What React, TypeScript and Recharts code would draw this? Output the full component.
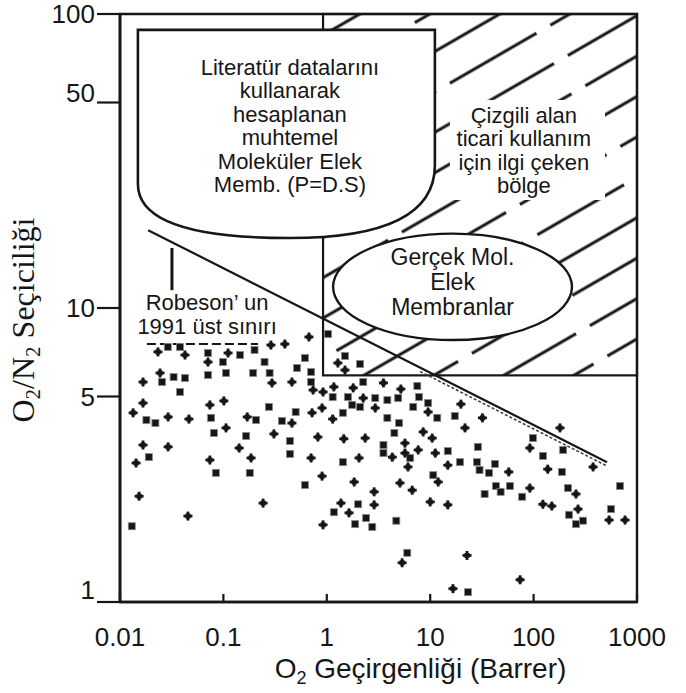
import React from "react";
import {
  ScatterChart,
  Scatter,
  XAxis,
  YAxis,
  ReferenceArea,
  ReferenceLine,
  Label,
} from "recharts";

const FONT = "'Liberation Sans', Arial, sans-serif";
const SERIF = "'Liberation Serif', 'Times New Roman', serif";
const INK = "#161616";

const xTicks = [0.01, 0.1, 1, 10, 100, 1000];
const yTicks = [1, 5, 10, 50, 100];

// [O2 permeability (Barrer), O2/N2 selectivity]
const squarePoints: [number, number][] = [
  [0.029, 7.37], [0.038, 7.37], [0.071, 7.03], [0.099, 6.55], [0.145, 6.92], [0.2, 7.2], [0.25, 6.55],
  [0.0255, 5.6], [0.033, 5.82], [0.0425, 5.78], [0.038, 5.18], [0.071, 5.92], [0.106, 6.01], [0.194, 6.01],
  [0.28, 6.01], [0.515, 6.25], [0.615, 6.76], [0.705, 6.06], [0.705, 5.6],
  [0.018, 4.16], [0.022, 4.06], [0.076, 4.23], [0.207, 4.16], [0.276, 4.61], [0.368, 4.13], [0.5, 4.43],
  [0.081, 3.76], [0.166, 3.67], [0.44, 3.53], [0.44, 3.19], [0.019, 3.11], [0.0845, 2.75], [0.18, 2.75],
  [0.615, 2.5], [0.013, 1.81],
  [1.14, 4.98], [1.6, 4.98], [2.94, 4.94], [2.25, 5.6], [1.76, 4.68], [2.1, 4.61], [3.85, 4.86], [4.9, 4.94],
  [7.5, 5.43], [7.8, 4.98], [6.85, 4.61], [9.55, 4.75], [11.7, 4.23], [17.3, 4.29],
  [1.43, 4.4], [3.85, 4.23], [5.0, 4.06], [4.5, 3.76], [3.53, 3.42], [3.53, 3.21], [6.4, 3.09], [14.8, 3.26],
  [19.4, 2.99], [1.43, 2.99],
  [28.9, 3.37], [98.5, 3.61], [123, 3.14], [193, 3.29], [28.3, 2.99], [42.3, 2.95], [30, 2.81], [37, 2.75],
  [188, 2.77], [43.2, 2.48], [59, 2.48], [48, 2.37], [33.6, 2.33], [77.5, 2.28], [215, 2.44], [685, 2.48],
  [220, 1.98], [300, 1.89], [257, 1.84], [561, 2.07],
  [23.2, 1.08], [2.01, 2.15], [1.17, 2.02], [1.88, 1.84], [2.4, 1.93], [2.75, 1.8], [4.7, 1.89], [10.7, 2.7],
  [6.0, 1.47], [1.03, 8.16], [1.5, 6.87], [2.1, 6.45],
];

const crossPoints: [number, number][] = [
  [0.0233, 7.09], [0.0425, 6.92], [0.071, 6.55], [0.111, 7.03], [0.288, 7.48], [0.393, 7.54], [0.672, 7.97],
  [0.0244, 6.01], [0.0167, 5.6], [0.295, 5.56], [0.46, 5.6], [0.737, 5.26],
  [0.0167, 4.75], [0.0134, 4.4], [0.0292, 4.26], [0.0464, 4.19], [0.074, 4.68], [0.101, 4.83], [0.17, 4.26],
  [0.46, 4.06], [0.72, 4.4], [0.9, 4.57],
  [0.106, 3.91], [0.308, 3.73], [0.0167, 3.42], [0.0292, 3.37], [0.0143, 2.97], [0.074, 3.04], [0.142, 3.34],
  [0.185, 3.09], [0.82, 3.64], [0.705, 3.09], [0.9, 2.68], [0.0153, 2.29], [0.0454, 1.96], [0.242, 2.17],
  [0.92, 5.18], [1.17, 5.39], [1.8, 5.35], [2.25, 4.94], [3.53, 5.56], [2.94, 4.57], [5.2, 5.3], [9.55, 4.43],
  [19.8, 4.71], [21.7, 3.91], [1.14, 4.19],
  [8.55, 3.79], [10.45, 3.61], [1.46, 3.59], [2.35, 3.61], [5.7, 3.47], [4.3, 3.11], [5.7, 3.21], [7.65, 3.29],
  [11.2, 3.21], [14.8, 2.92], [2.05, 3.09], [6.1, 2.88],
  [32, 4.23], [180, 3.91], [92, 3.34], [376, 2.88], [57.5, 2.77], [137, 2.83], [92, 2.44], [257, 2.33],
  [123, 2.15], [150, 2.12], [269, 2.07], [537, 1.9], [766, 1.9],
  [22.7, 1.44], [74, 1.19], [16.6, 1.11], [1.84, 2.56], [2.87, 2.37], [2.87, 2.14], [1.37, 2.17], [1.64, 2.01],
  [0.92, 1.83], [5.1, 2.54], [6.7, 2.4], [11.95, 2.56], [10, 2.19], [14.8, 2.14], [5.35, 1.36],
  [1.28, 6.5], [1.5, 6.15],
];

// Robeson 1991 upper bound and the other guide lines
const robesonLine = [{ x: 0.0187, y: 18.4 }, { x: 513, y: 2.99 }];
const robesonShadow = [{ x: 8, y: 6.08 }, { x: 513, y: 2.9 }];
const robesonPointer = [{ x: 0.0318, y: 16 }, { x: 0.0318, y: 11.5 }];
const dashedLimit = [{ x: 0.0182, y: 7.54 }, { x: 0.216, y: 7.54 }];

const shieldLines = [
  "Literatür datalarını",
  "kullanarak",
  "hesaplanan",
  "muhtemel",
  "Moleküler Elek",
  "Memb. (P=D.S)",
];
const hatchLines = ["Çizgili alan", "ticari kullanım", "için ilgi çeken", "bölge"];
const ellipseLines = ["Gerçek Mol.", "Elek", "Membranlar"];
const robesonLines = ["Robeson’ un", "1991 üst sınırı"];

const squares = squarePoints.map(([x, y]) => ({ x, y }));
const crosses = crossPoints.map(([x, y]) => ({ x, y }));

const fmt = (v: number) => String(v);

const SquareMark = (p: any) => (
  <rect x={p.cx - 3.5} y={p.cy - 3.5} width={7} height={7} fill={INK} stroke="#888" strokeWidth={0.8} />
);

const CrossMark = (p: any) => (
  <g fill={INK}>
    <rect x={p.cx - 4.5} y={p.cy - 1.4} width={9} height={2.8} />
    <rect x={p.cx - 1.4} y={p.cy - 4.5} width={2.8} height={9} />
    <rect x={p.cx - 2.5} y={p.cy - 2.5} width={5} height={5} />
  </g>
);

const textBlock = (lines: string[], cx: number, top: number, offsets: number[], size = 22) =>
  lines.map((t, i) => (
    <text key={i} x={cx} y={top + offsets[i]} textAnchor="middle" fontSize={size} fontFamily={FONT} fill={INK}>
      {t}
    </text>
  ));

const HatchShape = (p: any) => {
  const { x, y, width, height } = p;
  return (
    <g>
      <defs>
        <pattern id="hatch" patternUnits="userSpaceOnUse" width={116} height={35} patternTransform="rotate(-30)">
          <line x1={0} y1={17} x2={100} y2={17} stroke={INK} strokeWidth={2.8} />
        </pattern>
      </defs>
      <rect x={x} y={y} width={width} height={height} fill="url(#hatch)" stroke={INK} strokeWidth={2.2} />
    </g>
  );
};

const HatchTextShape = (p: any) => {
  const { x, y, width, height } = p;
  return (
    <g>
      <rect x={x} y={y} width={width} height={height} fill="#fff" />
      {textBlock(hatchLines, x + width * 0.477, y, [23, 46.5, 70, 93.5])}
    </g>
  );
};

const ShieldShape = (p: any) => {
  const { x, y, width: w, height: h } = p;
  const d = `M${x},${y} L${x + w},${y} L${x + w},${y + 0.65 * h} Q${x + w},${y + h} ${x + 0.51 * w},${y + h} Q${x},${y + h} ${x},${y + 0.74 * h} Z`;
  return (
    <g>
      <path d={d} fill="#fff" stroke={INK} strokeWidth={2.6} />
      {textBlock(shieldLines, x + w * 0.512, y, [45, 68.5, 92, 115.5, 139, 162.5])}
    </g>
  );
};

const EllipseShape = (p: any) => {
  const { x, y, width: w, height: h } = p;
  return (
    <g>
      <ellipse cx={x + w / 2} cy={y + h / 2} rx={w / 2} ry={h / 2} fill="#fff" stroke={INK} strokeWidth={2.4} />
      {textBlock(ellipseLines, x + w / 2, y, [31, 56, 81], 23)}
    </g>
  );
};

const RobesonText = (p: any) => {
  const { x, y, width: w } = p;
  return <g>{textBlock(robesonLines, x + w / 2, y, [20, 43.5])}</g>;
};

const XTick = (p: any) => (
  <text x={p.x} y={p.y} textAnchor="middle" fontSize={26} fontFamily={FONT} fill={INK}>
    {fmt(p.payload.value)}
  </text>
);

const yShift: Record<number, number> = { 1: -12, 50: -10 };
const YTick = (p: any) => (
  <text
    x={p.x}
    y={p.y + (yShift[p.payload.value] || 0) + 9}
    textAnchor="end"
    fontSize={26}
    fontFamily={FONT}
    fill={INK}
  >
    {fmt(p.payload.value)}
  </text>
);

const XTitle = (p: any) => {
  const vb = p.viewBox || { x: 120, y: 602, width: 517 };
  return (
    <text x={vb.x + vb.width / 2 + 42} y={vb.y + 76} textAnchor="middle" fontSize={28} fontFamily={FONT} fill={INK}>
      O<tspan fontSize={18} dy={6}>2</tspan>
      <tspan dy={-6}> Geçirgenliği  (Barrer)</tspan>
    </text>
  );
};

const YTitle = () => (
  <text
    x={34}
    y={320}
    transform="rotate(-90 34 320)"
    textAnchor="middle"
    fontSize={32}
    fontFamily={SERIF}
    fill={INK}
  >
    O<tspan fontSize={21} dy={6}>2</tspan>
    <tspan dy={-6}>/N</tspan>
    <tspan fontSize={21} dy={6}>2</tspan>
    <tspan dy={-6}> Seçiciliği</tspan>
  </text>
);

export default function App() {
  return (
    <div style={{ position: "absolute", left: 0, top: 0, width: 686, height: 693, background: "#fff" }}>
      <ScatterChart width={686} height={693} margin={{ top: 14, right: 49, bottom: 0, left: 0 }}>
        <XAxis
          type="number"
          dataKey="x"
          scale="log"
          domain={[0.01, 1000]}
          ticks={xTicks}
          interval={0}
          allowDataOverflow
          height={91}
          tickSize={-8}
          tickMargin={52}
          axisLine={{ stroke: INK, strokeWidth: 2.6 }}
          tickLine={{ stroke: INK, strokeWidth: 2.2 }}
          tick={<XTick />}
          label={<Label content={XTitle} />}
        />
        <YAxis
          type="number"
          dataKey="y"
          scale="log"
          domain={[1, 100]}
          ticks={yTicks}
          interval={0}
          allowDataOverflow
          width={120}
          tickSize={23}
          tickMargin={2}
          axisLine={{ stroke: INK, strokeWidth: 2.8 }}
          tickLine={{ stroke: INK, strokeWidth: 2.2 }}
          tick={<YTick />}
          label={<Label content={YTitle} />}
        />
        <ReferenceArea x1={0.92} x2={1000} y1={5.9} y2={100} shape={HatchShape} />
        <ReferenceArea x1={15.5} x2={490} y1={23.3} y2={51} shape={HatchTextShape} />
        <ReferenceArea x1={0.0149} x2={11.1} y1={17.3} y2={88.3} shape={ShieldShape} />
        <ReferenceArea x1={1.15} x2={235} y1={7.78} y2={17.9} shape={EllipseShape} />
        <ReferenceArea x1={0.0134} x2={0.361} y1={7.97} y2={11.5} shape={RobesonText} />
        <ReferenceArea x1={0.01} x2={1000} y1={1} y2={100} fill="none" stroke={INK} strokeWidth={2.4} fillOpacity={0} />
        <ReferenceLine segment={robesonLine} stroke={INK} strokeWidth={2.2} />
        <ReferenceLine segment={robesonShadow} stroke="#444" strokeWidth={1.6} strokeDasharray="3 2" />
        <ReferenceLine segment={robesonPointer} stroke={INK} strokeWidth={3} />
        <ReferenceLine segment={dashedLimit} stroke={INK} strokeWidth={2} strokeDasharray="9 4" />
        <Scatter data={squares} shape={SquareMark} isAnimationActive={false} />
        <Scatter data={crosses} shape={CrossMark} isAnimationActive={false} />
      </ScatterChart>
    </div>
  );
}
